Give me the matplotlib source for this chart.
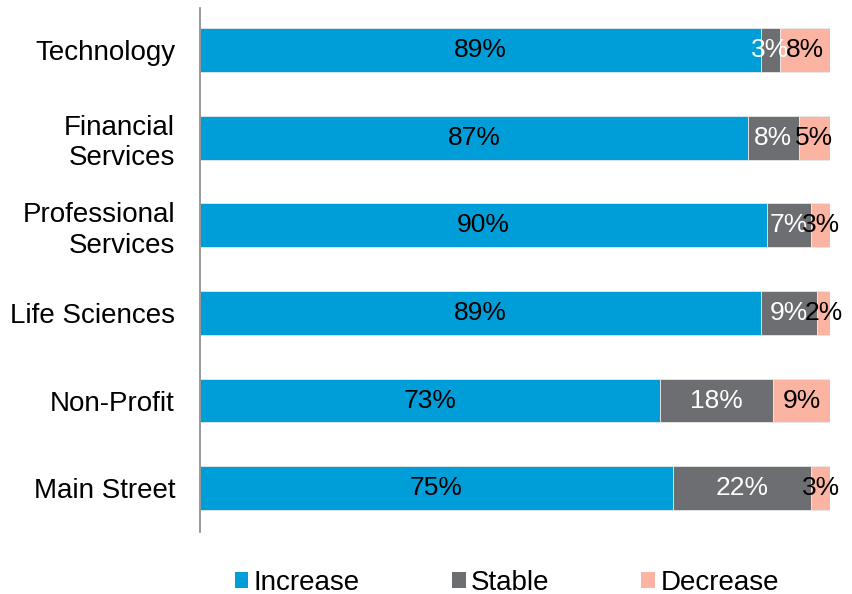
import matplotlib.pyplot as plt
from matplotlib.patches import Patch

plt.rcParams['font.family'] = ['Liberation Sans', 'DejaVu Sans']

# Branchen von oben nach unten
branchen = ["Technology", "Financial\nServices", "Professional\nServices",
            "Life Sciences", "Non-Profit", "Main Street"]
increase = [89, 87, 90, 89, 73, 75]
stable = [3, 8, 7, 9, 18, 22]
decrease = [8, 5, 3, 2, 9, 3]

farben = ["#009ED8", "#6D6E71", "#FBB4A1"]
textfarben = ["black", "white", "black"]
namen = ["Increase", "Stable", "Decrease"]

fig = plt.figure(figsize=(8.52, 5.94), dpi=100)
ax = fig.add_axes([200 / 852, 62 / 594, 630 / 852, 524 / 594])

pos = list(range(len(branchen)))[::-1]
links = [0] * len(branchen)
for werte, farbe, tfarbe in zip([increase, stable, decrease], farben, textfarben):
    bars = ax.barh(pos, werte, left=links, height=0.5, color=farbe,
                   edgecolor="#E8E8E8", linewidth=0.6)
    ax.bar_label(bars, labels=[f"{w}%" for w in werte], label_type="center",
                 color=tfarbe, fontsize=19)
    links = [l + w for l, w in zip(links, werte)]

ax.set_xlim(0, 100)
ax.set_ylim(-0.5, 5.48)
ax.set_yticks(pos)
ax.set_yticklabels(branchen, fontsize=20, linespacing=1.22)
ax.tick_params(axis="y", length=0, pad=18)
ax.set_xticks([])
for seite in ["top", "right", "bottom"]:
    ax.spines[seite].set_visible(False)
ax.spines["left"].set_color("#888888")
ax.spines["left"].set_linewidth(1.2)

# Legende unten
handles = [Patch(facecolor=f, edgecolor="none") for f in farben]
fig.legend(handles, namen, loc="lower center", ncol=3, frameon=False,
           fontsize=20, handlelength=0.5, handleheight=0.5,
           handletextpad=0.2, columnspacing=3.3,
           bbox_to_anchor=(0.595, -0.045))

plt.savefig("out.png", dpi=100)
